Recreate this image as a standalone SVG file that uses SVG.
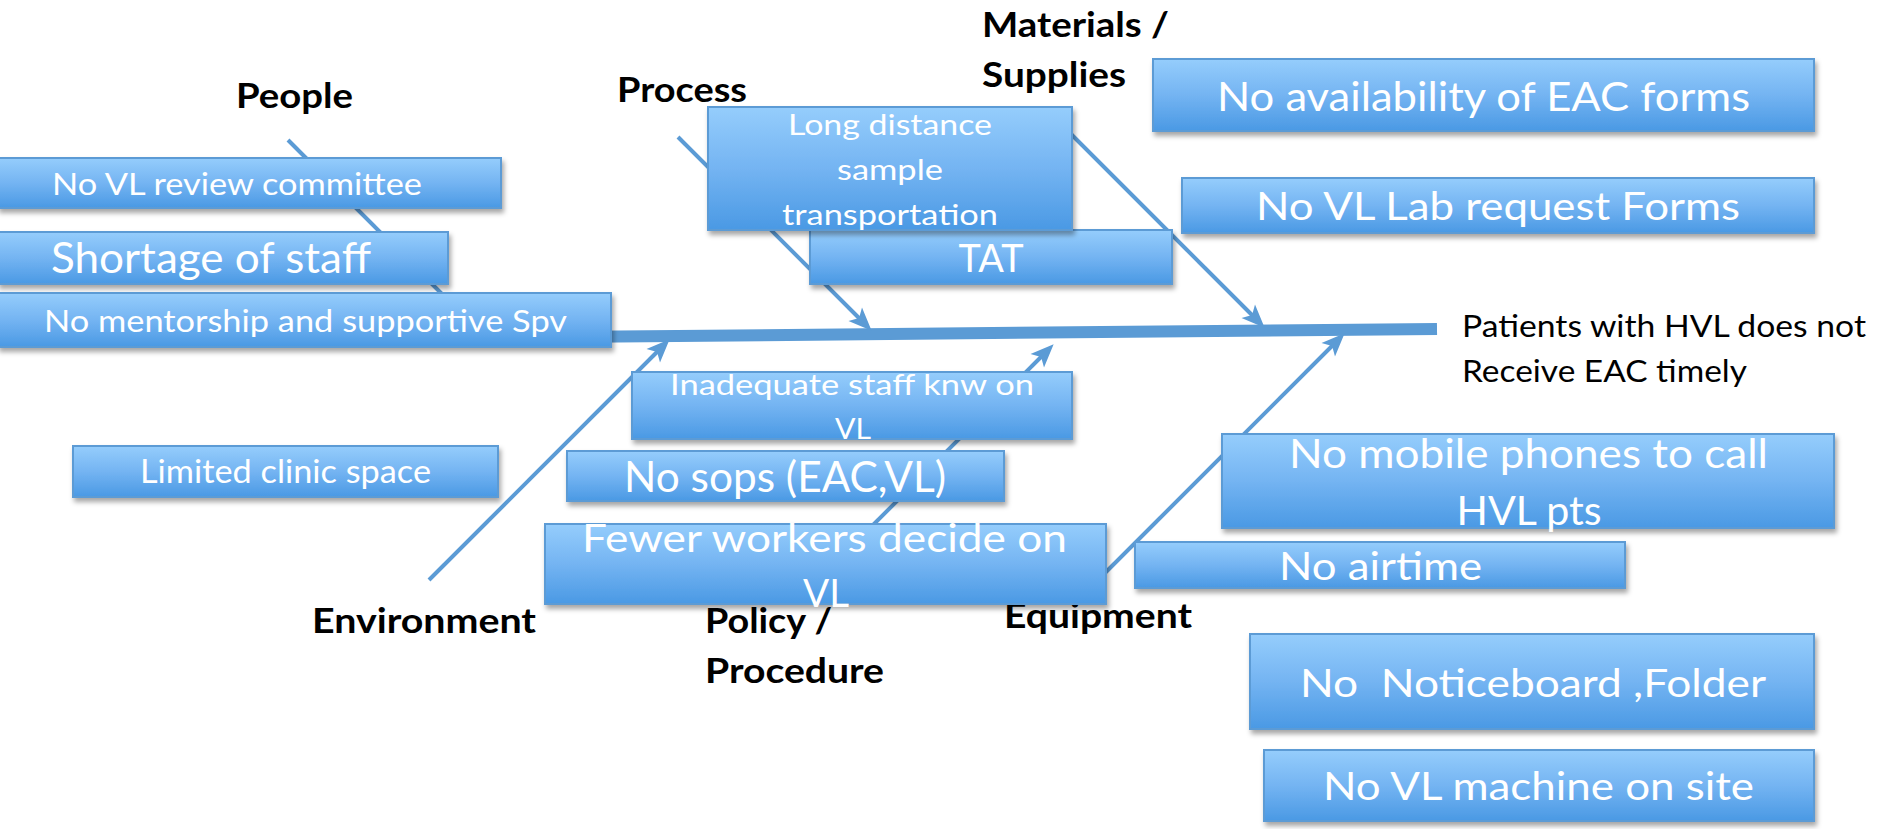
<svg xmlns="http://www.w3.org/2000/svg" width="1882" height="829" viewBox="0 0 1882 829">
<defs>
<linearGradient id="boxGrad" x1="0" y1="0" x2="0" y2="1">
<stop offset="0" stop-color="#95CDFC"/>
<stop offset="0.5" stop-color="#74B4F2"/>
<stop offset="1" stop-color="#4A99E4"/>
</linearGradient>
<filter id="shadow" x="-5%" y="-20%" width="110%" height="150%">
<feDropShadow dx="2" dy="4" stdDeviation="2.5" flood-color="#000" flood-opacity="0.35"/>
</filter>
<marker id="arrow" markerUnits="userSpaceOnUse" markerWidth="30" markerHeight="30" viewBox="-10 -10 22 20" refX="0" refY="0" orient="auto">
<path d="M10,0 L-7,-7 L-3,0 L-7,7 Z" fill="#5B9BD5"/>
</marker>
<style>
.box{fill:url(#boxGrad);stroke:#5B9BD5;stroke-width:2;filter:url(#shadow)}
.bt{font-family:Lato,"Liberation Sans",sans-serif;fill:#FFFFFF;white-space:pre}
.lbl{font-family:Lato,"Liberation Sans",sans-serif;font-weight:bold;fill:#000000;font-size:35px}
.head{font-family:Lato,"Liberation Sans",sans-serif;fill:#000000;font-size:30px}
.bone{stroke:#5B9BD5;stroke-width:4;fill:none;marker-end:url(#arrow)}
.spine{stroke:#5B9BD5;stroke-width:12;fill:none}
</style>
</defs>
<rect x="0" y="0" width="1882" height="829" fill="#FFFFFF"/>

<g id="connectors">
<line class="spine" x1="560" y1="337" x2="1437" y2="329"/>
<line class="bone" x1="288" y1="140" x2="478" y2="330"/>
<line class="bone" x1="678" y1="137" x2="862" y2="321"/>
<line class="bone" x1="1062" y1="125" x2="1255" y2="318"/>
<line class="bone" x1="429" y1="580" x2="660" y2="349"/>
<line class="bone" x1="808" y1="590" x2="1044" y2="354"/>
<line class="bone" x1="1100" y1="578" x2="1335" y2="343"/>
</g>

<g id="label-people"><text class="lbl" x="236" y="108" textLength="117" lengthAdjust="spacingAndGlyphs">People</text></g>
<g id="label-process"><text class="lbl" x="617" y="102" textLength="130" lengthAdjust="spacingAndGlyphs">Process</text></g>
<g id="label-materials">
<text class="lbl" x="982" y="37" textLength="187" lengthAdjust="spacingAndGlyphs">Materials /</text>
<text class="lbl" x="982" y="87" textLength="144" lengthAdjust="spacingAndGlyphs">Supplies</text>
</g>
<g id="label-environment"><text class="lbl" x="312" y="633" textLength="224" lengthAdjust="spacingAndGlyphs">Environment</text></g>
<g id="label-policy">
<text class="lbl" x="705" y="633" textLength="127" lengthAdjust="spacingAndGlyphs">Policy /</text>
<text class="lbl" x="705" y="683" textLength="179" lengthAdjust="spacingAndGlyphs">Procedure</text>
</g>
<g id="label-equipment"><text class="lbl" x="1004" y="628" textLength="188" lengthAdjust="spacingAndGlyphs">Equipment</text></g>
<g id="effect">
<text class="head" x="1462" y="337" textLength="404" lengthAdjust="spacingAndGlyphs">Patients with HVL does not</text>
<text class="head" x="1462" y="382" textLength="285" lengthAdjust="spacingAndGlyphs">Receive EAC timely</text>
</g>

<g id="node-review">
<rect class="box" x="-2" y="158" width="503" height="50"/>
<text class="bt" x="52" y="195" font-size="31" textLength="370" lengthAdjust="spacingAndGlyphs">No VL review committee</text>
</g>
<g id="node-shortage">
<rect class="box" x="-2" y="232" width="450" height="52"/>
<text class="bt" x="51" y="273" font-size="43" textLength="320" lengthAdjust="spacingAndGlyphs">Shortage of staff</text>
</g>
<g id="node-mentorship">
<rect class="box" x="-2" y="293" width="613" height="54"/>
<text class="bt" x="44" y="332" font-size="31" textLength="523" lengthAdjust="spacingAndGlyphs">No mentorship and supportive Spv</text>
</g>
<g id="node-tat">
<rect class="box" x="810" y="230" width="362" height="54"/>
<text class="bt" x="991" y="272" font-size="39" text-anchor="middle" textLength="65" lengthAdjust="spacingAndGlyphs">TAT</text>
</g>
<g id="node-distance">
<rect class="box" x="708" y="107" width="364" height="123"/>
<text class="bt" x="890" y="135" font-size="28" text-anchor="middle" textLength="204" lengthAdjust="spacingAndGlyphs">Long distance</text>
<text class="bt" x="890" y="180" font-size="28" text-anchor="middle" textLength="106" lengthAdjust="spacingAndGlyphs">sample</text>
<text class="bt" x="890" y="225" font-size="28" text-anchor="middle" textLength="216" lengthAdjust="spacingAndGlyphs">transportation</text>
</g>
<g id="node-inadequate">
<rect class="box" x="632" y="372" width="440" height="67"/>
<text class="bt" x="852" y="395" font-size="28" text-anchor="middle" textLength="364" lengthAdjust="spacingAndGlyphs">Inadequate staff knw on</text>
<text class="bt" x="853" y="439" font-size="28" text-anchor="middle" textLength="36" lengthAdjust="spacingAndGlyphs">VL</text>
</g>
<g id="node-sops">
<rect class="box" x="567" y="451" width="437" height="50"/>
<text class="bt" x="624" y="492" font-size="42" textLength="322" lengthAdjust="spacingAndGlyphs">No sops (EAC,VL)</text>
</g>
<g id="node-fewer">
<rect class="box" x="545" y="524" width="561" height="80"/>
<text class="bt" x="582" y="552" font-size="38" textLength="485" lengthAdjust="spacingAndGlyphs">Fewer workers decide on</text>
<text class="bt" x="826" y="607" font-size="38" text-anchor="middle" textLength="46" lengthAdjust="spacingAndGlyphs">VL</text>
</g>
<g id="node-clinic">
<rect class="box" x="73" y="446" width="425" height="51"/>
<text class="bt" x="140" y="483" font-size="32" textLength="291" lengthAdjust="spacingAndGlyphs">Limited clinic space</text>
</g>
<g id="node-eacforms">
<rect class="box" x="1153" y="59" width="661" height="72"/>
<text class="bt" x="1217" y="111" font-size="40" textLength="533" lengthAdjust="spacingAndGlyphs">No availability of EAC forms</text>
</g>
<g id="node-labforms">
<rect class="box" x="1182" y="178" width="632" height="55"/>
<text class="bt" x="1256" y="220" font-size="39" textLength="484" lengthAdjust="spacingAndGlyphs">No VL Lab request Forms</text>
</g>
<g id="node-phones">
<rect class="box" x="1222" y="434" width="612" height="94"/>
<text class="bt" x="1289" y="468" font-size="40" textLength="479" lengthAdjust="spacingAndGlyphs">No mobile phones to call</text>
<text class="bt" x="1529" y="525" font-size="40" text-anchor="middle" textLength="145" lengthAdjust="spacingAndGlyphs">HVL pts</text>
</g>
<g id="node-airtime">
<rect class="box" x="1135" y="542" width="490" height="46"/>
<text class="bt" x="1279" y="580" font-size="39" textLength="203" lengthAdjust="spacingAndGlyphs">No airtime</text>
</g>
<g id="node-noticeboard">
<rect class="box" x="1250" y="634" width="564" height="95"/>
<text class="bt" x="1300" y="697" font-size="39" textLength="466" lengthAdjust="spacingAndGlyphs">No  Noticeboard ,Folder</text>
</g>
<g id="node-machine">
<rect class="box" x="1264" y="750" width="550" height="71"/>
<text class="bt" x="1323" y="800" font-size="39" textLength="431" lengthAdjust="spacingAndGlyphs">No VL machine on site</text>
</g>
</svg>
